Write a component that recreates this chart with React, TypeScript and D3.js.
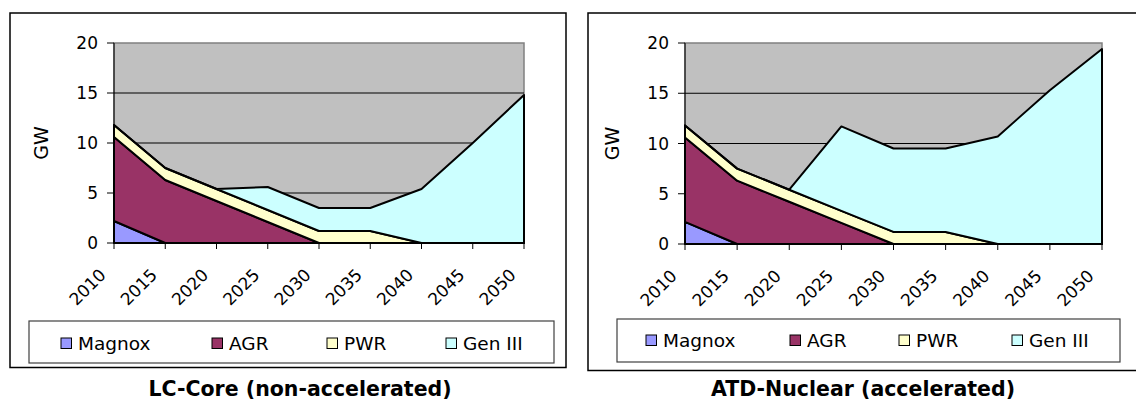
import React from "react";
import * as d3 from "d3";

const years = ["2010", "2015", "2020", "2025", "2030", "2035", "2040", "2045", "2050"];
const seriesNames = ["Magnox", "AGR", "PWR", "Gen III"];
const seriesColors = ["#9999FF", "#993366", "#FFFFCC", "#CCFFFF"];
const yTicks = [0, 5, 10, 15, 20];

// LC-Core (non-accelerated)
const lcMagnox = [2.2, 0, 0, 0, 0, 0, 0, 0, 0];
const lcAGR = [8.4, 6.3, 4.2, 2.1, 0, 0, 0, 0, 0];
const lcPWR = [1.2, 1.2, 1.2, 1.2, 1.2, 1.2, 0, 0, 0];
const lcGen3 = [0, 0, 0, 2.3, 2.3, 2.3, 5.4, 10.0, 14.8];

// ATD-Nuclear (accelerated)
const atdMagnox = [2.2, 0, 0, 0, 0, 0, 0, 0, 0];
const atdAGR = [8.4, 6.3, 4.2, 2.1, 0, 0, 0, 0, 0];
const atdPWR = [1.2, 1.2, 1.2, 1.2, 1.2, 1.2, 0, 0, 0];
const atdGen3 = [0, 0, 0, 8.4, 8.3, 8.3, 10.7, 15.3, 19.4];

const FONT = "'DejaVu Sans', Verdana, sans-serif";

type Panel = {
  title: string;
  series: number[][];
  box: [number, number, number, number];
  plot: [number, number, number, number];
  legend: [number, number, number, number];
  legendOffsets: number[];
  legendBaseline: number;
  titleX: number;
};

const panels: Panel[] = [
  {
    title: "LC-Core (non-accelerated)",
    series: [lcMagnox, lcAGR, lcPWR, lcGen3],
    box: [10, 13, 566, 367.5],
    plot: [114, 43, 524, 243],
    legend: [29, 321, 554, 363],
    legendOffsets: [32, 183, 298, 417],
    legendBaseline: 350,
    titleX: 300,
  },
  {
    title: "ATD-Nuclear (accelerated)",
    series: [atdMagnox, atdAGR, atdPWR, atdGen3],
    box: [588, 13, 1150, 370.5],
    plot: [685, 43, 1102, 244],
    legend: [617, 319, 1120, 362],
    legendOffsets: [29, 173, 282, 395],
    legendBaseline: 347,
    titleX: 863,
  },
];

function Chart({ p }: { p: Panel }) {
  const [pl, pt, pr, pb] = p.plot;
  const x = d3.scalePoint<string>().domain(years).range([pl, pr]);
  const y = d3.scaleLinear().domain([0, 20]).range([pb, pt]);

  const rows = years.map((yr, i) => {
    const o: any = { year: yr };
    seriesNames.forEach((s, j) => (o[s] = p.series[j][i]));
    return o;
  });
  const stacked = d3.stack<any>().keys(seriesNames)(rows);
  const area = d3
    .area<any>()
    .x((d) => x(d.data.year) as number)
    .y0((d) => y(d[0]))
    .y1((d) => y(d[1]));

  const [bx0, by0, bx1, by1] = p.box;
  const [lx0, ly0, lx1, ly1] = p.legend;

  return (
    <g>
      <rect x={bx0} y={by0} width={bx1 - bx0} height={by1 - by0} fill="#fff" stroke="#000" strokeWidth={1.5} />
      <rect x={pl} y={pt} width={pr - pl} height={pb - pt} fill="#C0C0C0" stroke="#808080" strokeWidth={1.5} />
      {yTicks.slice(1, -1).map((t) => (
        <line key={t} x1={pl} x2={pr} y1={y(t)} y2={y(t)} stroke="#000" strokeWidth={1} />
      ))}
      {stacked.map((s, j) => (
        <path
          key={j}
          d={area(s) as string}
          fill={seriesColors[j]}
          stroke="#000"
          strokeWidth={2}
          strokeLinejoin="round"
        />
      ))}
      {/* y axis */}
      <line x1={pl} x2={pl} y1={pt} y2={pb} stroke="#000" strokeWidth={1} />
      {yTicks.map((t) => (
        <g key={t}>
          <line x1={pl - 7} x2={pl} y1={y(t)} y2={y(t)} stroke="#000" strokeWidth={1} />
          <text x={pl - 16} y={y(t)} dy="0.36em" textAnchor="end" fontFamily={FONT} fontSize={17} fill="#000">
            {t}
          </text>
        </g>
      ))}
      <text
        transform={`translate(${pl - 73},${(pt + pb) / 2}) rotate(-90)`}
        textAnchor="middle"
        dy="0.36em"
        fontFamily={FONT}
        fontSize={19}
        fill="#000"
      >
        GW
      </text>
      {/* x axis */}
      <line x1={pl} x2={pr} y1={pb} y2={pb} stroke="#000" strokeWidth={1.5} />
      {years.map((yr) => {
        const xx = x(yr) as number;
        return (
          <g key={yr}>
            <line x1={xx} x2={xx} y1={pb} y2={pb + 6} stroke="#000" strokeWidth={1} />
            <text
              transform={`translate(${xx - 7},${pb + 33}) rotate(-45)`}
              textAnchor="end"
              fontFamily={FONT}
              fontSize={17}
              fill="#000"
            >
              {yr}
            </text>
          </g>
        );
      })}
      {/* legend */}
      <rect x={lx0} y={ly0} width={lx1 - lx0} height={ly1 - ly0} fill="#fff" stroke="#404040" strokeWidth={1.2} />
      {seriesNames.map((s, j) => {
        const sx = lx0 + p.legendOffsets[j];
        return (
          <g key={s}>
            <rect x={sx} y={p.legendBaseline - 12} width={10.5} height={10.5} fill={seriesColors[j]} stroke="#000" strokeWidth={1} />
            <text x={sx + 17} y={p.legendBaseline} fontFamily={FONT} fontSize={18.5} fill="#000">
              {s}
            </text>
          </g>
        );
      })}
      <text x={p.titleX} y={396} textAnchor="middle" fontFamily={FONT} fontWeight="bold" fontSize={20.5} fill="#000">
        {p.title}
      </text>
    </g>
  );
}

export default function App() {
  return (
    <svg
      width={1136}
      height={402}
      viewBox="0 0 1136 402"
      style={{ position: "absolute", left: 0, top: 0, background: "#fff" }}
    >
      {panels.map((p, i) => (
        <Chart key={i} p={p} />
      ))}
    </svg>
  );
}
